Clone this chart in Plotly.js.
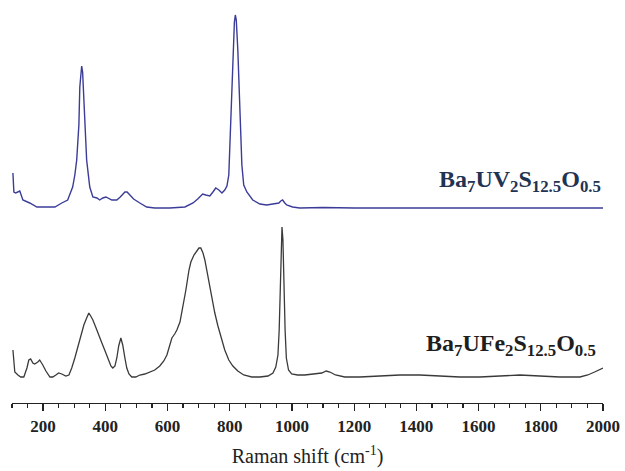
<!DOCTYPE html>
<html>
<head>
<meta charset="utf-8">
<script src="https://cdn.plot.ly/plotly-3.0.1.min.js"></script>
<style>html,body{margin:0;padding:0;background:#fff;}#chart{width:625px;height:471px;}</style>
</head>
<body>
<div id="chart"></div>
<script>
// Ba7UV2S12.5O0.5 (upper, offset) Raman spectrum
const uvShift = [103,106,112,125,135,157,180,212,238,260,279,295,302,308,315,318,321,324,327,331,334,340,350,360,373,382,392,402,421,437,448,456,463,470,477,484,491,511,533,559,607,656,682,697,713,723,736,746,755,765,775,784,791,797,800,805,810,815,818,821,826,831,836,839,845,855,874,897,919,945,958,964,970,977,983,1002,1025,1100,1200,1400,1600,1800,2000];
const uvIntensity = [230,211,210,212,203,200,196,196,196,200,203,216,228,243,278,316,331,337,331,308,278,243,216,206,205,203,205,206,203,203,206,209,211,211,209,207,204,200,196,195,195,196,200,204,209,208,207,211,215,213,210,213,217,228,253,303,353,381,388,383,353,303,258,238,218,211,203,199,198,199,200,202,203,200,198,196,195,195.5,195,195,195,195,195];

// Ba7UFe2S12.5O0.5 (lower) Raman spectrum
const feShift = [103,106,109,119,128,138,148,154,160,167,173,183,189,199,209,222,231,241,250,260,273,283,292,302,312,321,331,340,347,353,360,369,379,389,398,408,418,424,431,437,443,450,456,463,469,476,485,498,511,527,543,559,575,588,598,607,614,623,630,640,649,659,669,675,685,694,701,707,714,720,727,733,743,752,762,772,784,797,810,826,845,871,897,923,939,948,955,959,962,965,968,971,974,978,982,989,999,1018,1041,1074,1096,1110,1122,1140,1170,1218,1282,1347,1411,1475,1540,1604,1668,1733,1797,1861,1926,1951,1973,2000];
const feIntensity = [53,38,31,28,26,26,35,43,44,40,39,41,43,38,32,26,26,28,30,29,27,28,35,45,56,67,78,85,90,87,83,76,67,60,53,45,37,35,37,45,57,65,58,45,35,29,26,26,28,29,31,33,37,42,48,58,65,69,73,81,95,113,133,141,148,152,155,155,150,143,131,120,105,90,77,66,53,43,37,32,28,26,26,27,30,36,48,73,108,153,176,163,118,73,45,33,29,28,28,29,30,32,31,28,26,26,27,28,28,27,26,26,27,28,27,26,26,28,31,35];

const tickValues = [200,400,600,800,1000,1200,1400,1600,1800,2000];
const uvLabel = "<b>Ba<sub>7</sub>UV<sub>2</sub>S<sub>12.5</sub>O<sub>0.5</sub></b>";
const feLabel = "<b>Ba<sub>7</sub>UFe<sub>2</sub>S<sub>12.5</sub>O<sub>0.5</sub></b>";
const xTitle = "Raman shift (cm<sup>-1</sup>)";

const serif = 'Liberation Serif, Times New Roman, serif';

const traces = [
  {x: uvShift, y: uvIntensity, type: 'scatter', mode: 'lines',
   line: {color: '#3b3c98', width: 1.4}, hoverinfo: 'skip'},
  {x: feShift, y: feIntensity, type: 'scatter', mode: 'lines',
   line: {color: '#3a3a3a', width: 1.3}, hoverinfo: 'skip'}
];

const layout = {
  width: 625, height: 471,
  margin: {l: 12, r: 22, t: 5, b: 68},
  paper_bgcolor: '#fff', plot_bgcolor: '#fff',
  font: {family: serif, color: '#222', size: 16},
  showlegend: false,
  xaxis: {
    range: [100, 2000], showgrid: false, zeroline: false,
    showline: true, linecolor: '#222', linewidth: 1.3,
    ticks: 'outside', ticklen: 7, tickwidth: 1.3, tickcolor: '#222',
    tickmode: 'array', tickvals: tickValues,
    ticktext: tickValues.map(v => '<b>' + v + '</b>'),
    tickfont: {family: serif, size: 17, color: '#222'},
    title: {text: xTitle, font: {family: serif, size: 20, color: '#222'}, standoff: 14}
  },
  xaxis2: {
    range: [100, 2000], overlaying: 'x', side: 'bottom', anchor: 'y',
    showgrid: false, zeroline: false, showline: false, showticklabels: false,
    ticks: 'outside', ticklen: 4, tickwidth: 1.2, tickcolor: '#222',
    tickmode: 'linear', tick0: 0, dtick: 50
  },
  yaxis: {range: [0, 398], visible: false, showgrid: false, zeroline: false, fixedrange: true},
  annotations: [
    {x: 2000, y: 222, xref: 'x', yref: 'y', xanchor: 'right', yanchor: 'middle', showarrow: false,
     text: uvLabel, font: {family: serif, size: 24, color: '#1f3352'}},
    {x: 1984, y: 58, xref: 'x', yref: 'y', xanchor: 'right', yanchor: 'middle', showarrow: false,
     text: feLabel, font: {family: serif, size: 24, color: '#1e1e1e'}}
  ]
};

// an empty trace so the minor-tick axis is drawn
traces.push({x: [], y: [], xaxis: 'x2', yaxis: 'y', type: 'scatter', mode: 'lines', hoverinfo: 'skip', showlegend: false});

Plotly.newPlot('chart', traces, layout, {staticPlot: true, displayModeBar: false});
</script>
</body>
</html>
